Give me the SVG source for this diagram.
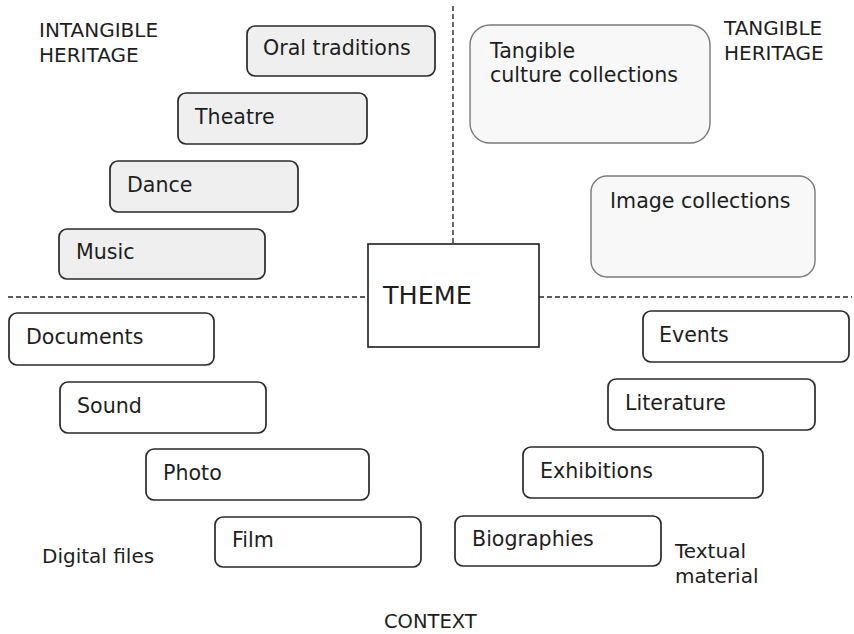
<svg xmlns="http://www.w3.org/2000/svg" width="854" height="634" viewBox="0 0 854 634">
  <style>
    text { font-family: "DejaVu Sans", Verdana, sans-serif; fill: #1e1e1e; font-size: 20.6px; }
    .lbl { font-size: 20px; }
    .box { fill: #ffffff; stroke: #2a2a2a; stroke-width: 1.7; }
    .gray { fill: #efefef; stroke: #2a2a2a; stroke-width: 1.7; }
    .soft { fill: #f8f8f8; stroke: #7a7a7a; stroke-width: 1.4; }
    .theme { fill: #ffffff; stroke: #2a2a2a; stroke-width: 1.7; }
    .div { stroke: #2a2a2a; stroke-width: 1.4; stroke-dasharray: 5 3; fill: none; }
  </style>

  <!-- dividing lines -->
  <g id="connectors">
    <line class="div" x1="453" y1="6" x2="453" y2="244"/>
    <line class="div" x1="8" y1="297" x2="368" y2="297"/>
    <line class="div" x1="539" y1="297" x2="852" y2="297"/>
  </g>

  <!-- quadrant labels -->
  <g id="labels">
    <text class="lbl" x="39" y="37">INTANGIBLE</text>
    <text class="lbl" x="39" y="62">HERITAGE</text>
    <text class="lbl" x="724" y="35">TANGIBLE</text>
    <text class="lbl" x="724" y="60">HERITAGE</text>
    <text class="lbl" x="42" y="563">Digital files</text>
    <text class="lbl" x="675" y="558">Textual</text>
    <text class="lbl" x="675" y="583">material</text>
    <text class="lbl" x="384" y="628" style="font-size:19.5px">CONTEXT</text>
  </g>

  <!-- intangible heritage -->
  <g id="oral-traditions">
    <rect class="gray" x="247" y="26" width="188" height="50" rx="8"/>
    <text x="263" y="55">Oral traditions</text>
  </g>
  <g id="theatre">
    <rect class="gray" x="178" y="93" width="189" height="51" rx="8"/>
    <text x="195" y="124">Theatre</text>
  </g>
  <g id="dance">
    <rect class="gray" x="110" y="161" width="188" height="51" rx="8"/>
    <text x="127" y="192">Dance</text>
  </g>
  <g id="music">
    <rect class="gray" x="59" y="229" width="206" height="50" rx="8"/>
    <text x="76" y="259">Music</text>
  </g>

  <!-- tangible heritage -->
  <g id="tangible-culture">
    <rect class="soft" x="470" y="25" width="240" height="118" rx="20"/>
    <text x="490" y="58">Tangible</text>
    <text x="490" y="82">culture collections</text>
  </g>
  <g id="image-collections">
    <rect class="soft" x="591" y="176" width="224" height="101" rx="16"/>
    <text x="610" y="208">Image collections</text>
  </g>

  <!-- centre -->
  <g id="theme">
    <rect class="theme" x="368" y="244" width="171" height="103"/>
    <text x="383" y="304" style="font-size:25.5px">THEME</text>
  </g>

  <!-- digital files -->
  <g id="documents">
    <rect class="box" x="9" y="313" width="205" height="52" rx="8"/>
    <text x="26" y="344">Documents</text>
  </g>
  <g id="sound">
    <rect class="box" x="60" y="382" width="206" height="51" rx="8"/>
    <text x="77" y="413">Sound</text>
  </g>
  <g id="photo">
    <rect class="box" x="146" y="449" width="223" height="51" rx="8"/>
    <text x="163" y="480">Photo</text>
  </g>
  <g id="film">
    <rect class="box" x="215" y="517" width="206" height="50" rx="8"/>
    <text x="232" y="547">Film</text>
  </g>

  <!-- textual material -->
  <g id="events">
    <rect class="box" x="643" y="311" width="206" height="51" rx="8"/>
    <text x="659" y="342">Events</text>
  </g>
  <g id="literature">
    <rect class="box" x="608" y="379" width="207" height="51" rx="8"/>
    <text x="625" y="410">Literature</text>
  </g>
  <g id="exhibitions">
    <rect class="box" x="523" y="447" width="240" height="51" rx="8"/>
    <text x="540" y="478">Exhibitions</text>
  </g>
  <g id="biographies">
    <rect class="box" x="455" y="516" width="206" height="50" rx="8"/>
    <text x="472" y="546">Biographies</text>
  </g>
</svg>
